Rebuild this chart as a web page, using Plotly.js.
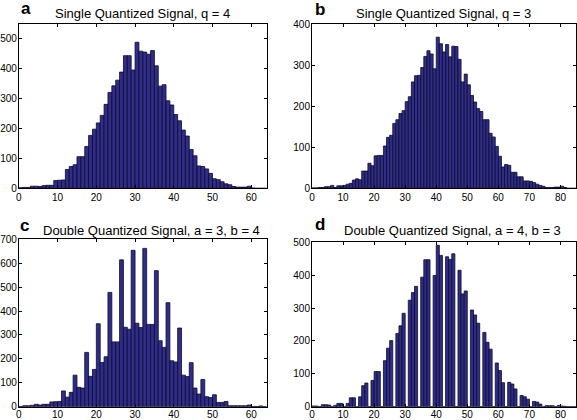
<!DOCTYPE html>
<html>
<head>
<meta charset="utf-8">
<script src="https://cdn.plot.ly/plotly-3.0.1.min.js"></script>
<style>
html,body{margin:0;padding:0;background:#fff;overflow:hidden;}
#chart{width:577px;height:420px;}
</style>
</head>
<body>
<div id="chart"></div>
<script>
// Histogram counts, one value per unit-wide bin starting at 0
const countsA = [2,3,3,7,7,6,9,10,10,26,27,28,63,73,79,106,106,140,177,198,219,244,281,321,343,362,389,444,444,396,489,459,456,449,461,410,342,347,293,279,247,226,195,175,130,109,75,73,65,50,32,29,22,15,12,6,4,4,4,7,1,0,0,0];
const countsB = [1,1,2,2,4,4,7,2,6,6,7,10,12,20,23,21,42,42,61,55,79,80,80,103,124,129,158,167,182,189,211,223,259,274,275,294,321,335,327,291,368,352,332,350,320,346,345,314,259,278,252,226,210,194,187,167,167,134,125,102,78,52,58,56,39,39,28,28,18,18,17,14,10,7,5,2,2,2,3,3,5,2,0,0,0];
const countsC = [1,4,4,6,10,7,10,10,20,21,22,66,40,60,132,81,78,227,127,156,347,185,209,478,271,271,614,332,324,654,349,331,662,344,344,569,276,248,435,192,187,329,132,126,184,78,53,114,42,38,50,18,18,22,4,4,4,4,4,7,1,1,3,0];
const countsD = [2,2,0,6,6,5,0,4,10,10,0,10,27,27,0,30,64,72,0,80,107,107,0,140,178,201,0,223,246,284,0,324,347,366,0,394,447,447,0,399,491,460,0,456,448,465,0,415,343,352,0,294,279,254,0,226,196,175,0,133,110,73,0,74,69,54,0,34,30,23,0,16,14,8,0,3,3,3,0,4,2,1,0,0,0];

const titles = ["Single Quantized Signal, q = 4","Single Quantized Signal, q = 3","Double Quantized Signal, a = 3, b = 4","Double Quantized Signal, a = 4, b = 3"];
const panelLabels = ["a","b","c","d"];
const xTicksA = [0,10,20,30,40,50,60];
const xTicksB = [0,10,20,30,40,50,60,70,80];
const yTicksA = [0,100,200,300,400,500];
const yTicksB = [0,100,200,300,400];
const yTicksC = [0,100,200,300,400,500,600,700];
const yTicksD = [0,100,200,300,400,500];

const W = 577, H = 420;
const px = v => v / W;
const py = v => 1 - v / H;

const FONT = "Liberation Sans, Arial, Helvetica, sans-serif";
const barColor = "#302d8a";
const edge = {color: "#0b0b2a", width: 0.8};

function barTrace(counts, xa, ya) {
  return {type: "bar", y: counts, x0: 0.5, dx: 1, xaxis: xa, yaxis: ya,
    marker: {color: barColor, line: edge}, width: 1, hoverinfo: "skip"};
}

const data = [
  barTrace(countsA, "x", "y"),
  barTrace(countsB, "x2", "y2"),
  barTrace(countsC, "x3", "y3"),
  barTrace(countsD, "x4", "y4")
];

function baseAxis(domain, range, ticks, anchor) {
  return {domain: domain, range: range, tickvals: ticks, ticktext: ticks.map(String), anchor: anchor,
    showline: true, linecolor: "#000", linewidth: 1, mirror: "ticks", ticks: "inside", ticklen: 3,
    tickcolor: "#000", tickwidth: 1, showgrid: false, zeroline: false, fixedrange: true,
    tickfont: {family: FONT, size: 10.5, color: "#000"}};
}
function xaxis(domain, range, ticks, anchor, standoff) {
  const a = baseAxis(domain, range, ticks, anchor);
  a.tickfont = {family: FONT, size: 10, color: "#000"};
  a.ticklabelstandoff = standoff;
  return a;
}
function yaxis(domain, range, ticks, anchor) {
  const a = baseAxis(domain, range, ticks, anchor);
  a.tickfont = {family: FONT, size: 10, color: "#000"};
  a.ticklabelstandoff = -1;
  return a;
}

const xL = [px(18.9), px(266.7)];
const xR = [px(312), px(576)];
const yTop = [py(188.3), py(24)];
const yBotL = [py(406.7), py(239.3)];
const yBotR = [py(406.7), py(242.3)];

const annotations = [];
const titlePos = [[142.8, 14], [443, 14], [151.2, 230], [452.2, 230]];
const labelPos = [[19, 8.5], [313, 9.5], [18.3, 225], [313, 224.5]];
for (let i = 0; i < 4; i++) {
  annotations.push({text: titles[i], xref: "paper", yref: "paper", x: px(titlePos[i][0]), y: py(titlePos[i][1]),
    xanchor: "center", yanchor: "middle", showarrow: false, font: {family: FONT, size: 13, color: "#000"}});
  annotations.push({text: "<b>" + panelLabels[i] + "</b>", xref: "paper", yref: "paper", x: px(labelPos[i][0]), y: py(labelPos[i][1]),
    xanchor: "left", yanchor: "middle", showarrow: false, font: {family: FONT, size: 17, color: "#000"}});
}

const layout = {
  width: W, height: H, margin: {l: 0, r: 0, t: 0, b: 0, pad: 0},
  paper_bgcolor: "#fff", plot_bgcolor: "#fff", showlegend: false,
  bargap: 0, barmode: "overlay",
  xaxis: xaxis(xL, [0, 64], xTicksA, "y", 0),
  yaxis: yaxis(yTop, [0, 550], yTicksA, "x"),
  xaxis2: xaxis(xR, [0, 85], xTicksB, "y2", 0),
  yaxis2: yaxis(yTop, [0, 400], yTicksB, "x2"),
  xaxis3: xaxis(xL, [0, 64], xTicksA, "y3", -2),
  yaxis3: yaxis(yBotL, [0, 700], yTicksC, "x3"),
  xaxis4: xaxis(xR, [0, 85], xTicksB, "y4", -2),
  yaxis4: yaxis(yBotR, [0, 500], yTicksD, "x4"),
  annotations: annotations
};

Plotly.newPlot("chart", data, layout, {staticPlot: true, displayModeBar: false});
</script>
</body>
</html>
